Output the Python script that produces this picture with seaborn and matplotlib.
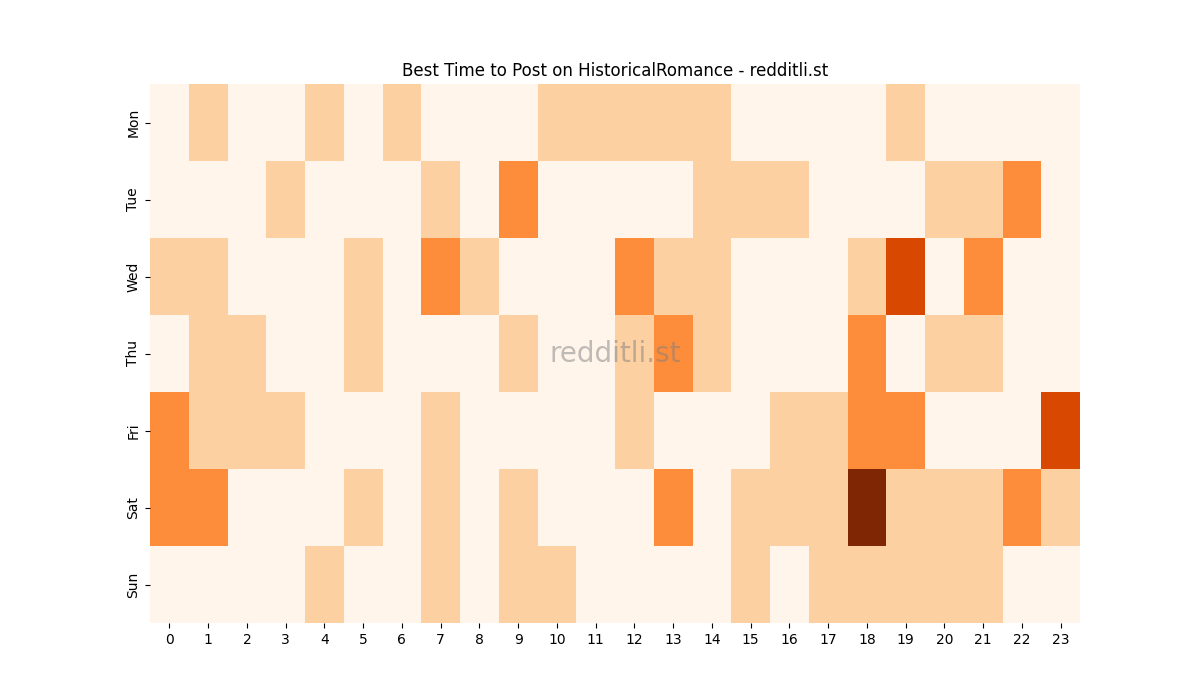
import numpy as np
import pandas as pd
import matplotlib
matplotlib.use("Agg")
import matplotlib.pyplot as plt
import seaborn as sns

days = ["Mon", "Tue", "Wed", "Thu", "Fri", "Sat", "Sun"]
hours = list(range(24))

mon = [0, 1, 0, 0, 1, 0, 1, 0, 0, 0, 1, 1, 1, 1, 1, 0, 0, 0, 0, 1, 0, 0, 0, 0]
tue = [0, 0, 0, 1, 0, 0, 0, 1, 0, 2, 0, 0, 0, 0, 1, 1, 1, 0, 0, 0, 1, 1, 2, 0]
wed = [1, 1, 0, 0, 0, 1, 0, 2, 1, 0, 0, 0, 2, 1, 1, 0, 0, 0, 1, 3, 0, 2, 0, 0]
thu = [0, 1, 1, 0, 0, 1, 0, 0, 0, 1, 0, 0, 1, 2, 1, 0, 0, 0, 2, 0, 1, 1, 0, 0]
fri = [2, 1, 1, 1, 0, 0, 0, 1, 0, 0, 0, 0, 1, 0, 0, 0, 1, 1, 2, 2, 0, 0, 0, 3]
sat = [2, 2, 0, 0, 0, 1, 0, 1, 0, 1, 0, 0, 0, 2, 0, 1, 1, 1, 4, 1, 1, 1, 2, 1]
sun = [0, 0, 0, 0, 1, 0, 0, 1, 0, 1, 1, 0, 0, 0, 0, 1, 0, 1, 1, 1, 1, 1, 0, 0]

df = pd.DataFrame([mon, tue, wed, thu, fri, sat, sun], index=days, columns=hours)

fig, ax = plt.subplots(figsize=(12, 7), dpi=100)
sns.heatmap(df, cmap="Oranges", vmin=0, vmax=4, cbar=False, ax=ax)
ax.set_title("Best Time to Post on HistoricalRomance - redditli.st")
ax.text(0.5, 0.5, "redditli.st", transform=ax.transAxes, ha="center", va="center",
        fontsize=20, color="gray", alpha=0.5)

plt.savefig("out.png")
